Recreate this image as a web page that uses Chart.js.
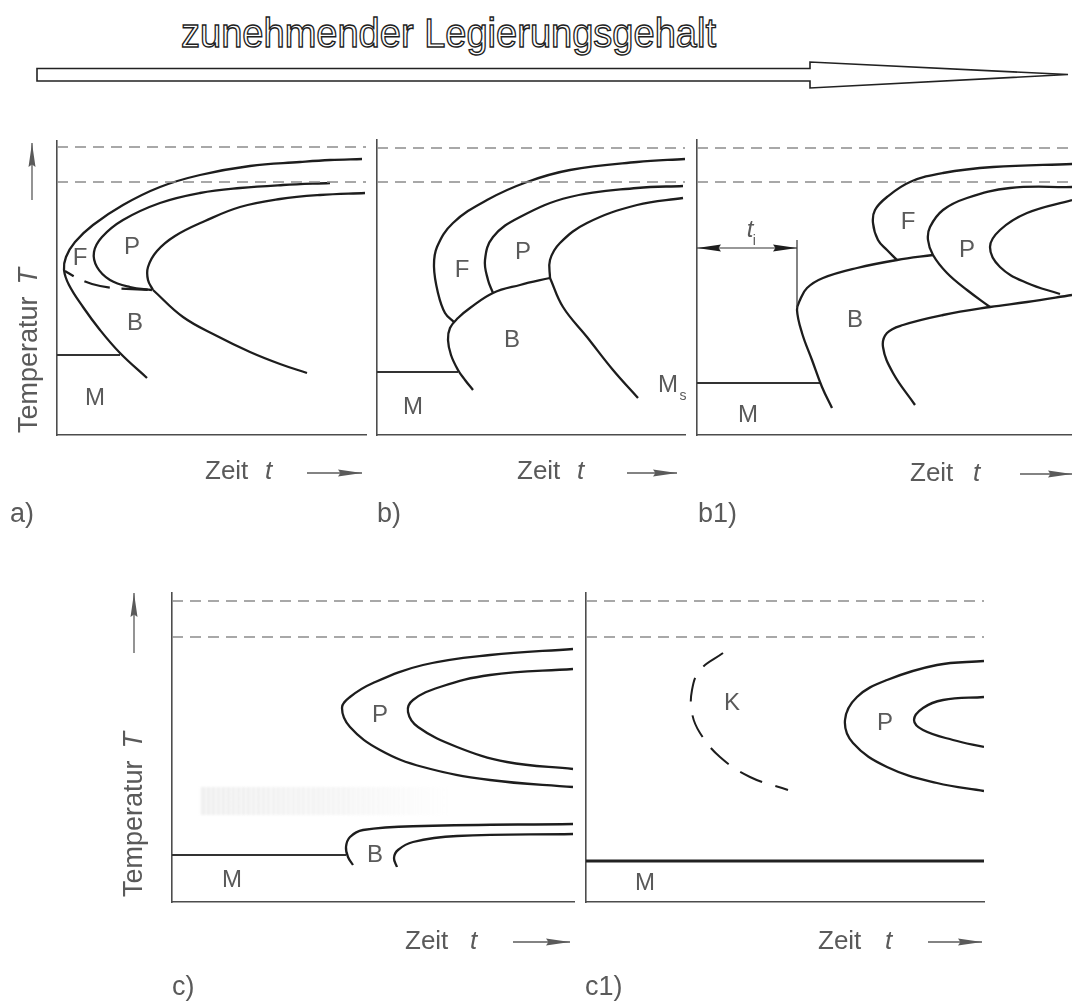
<!DOCTYPE html>
<html lang="de">
<head>
<meta charset="utf-8">
<title>ZTU-Schaubilder – zunehmender Legierungsgehalt</title>
<script src="https://cdn.jsdelivr.net/npm/chart.js@4.4.1/dist/chart.umd.min.js"></script>
<style>
  html, body { margin: 0; padding: 0; background: #fff; overflow: hidden; }
  #page { position: relative; width: 1072px; height: 1002px; }
  #page canvas { position: absolute; left: 0; top: 0; }
  #head { position: absolute; left: 0; top: 0; }
  #smudge {
    position: absolute; left: 200px; top: 787px; width: 250px; height: 28px;
    background:
      repeating-linear-gradient(90deg, rgba(255,255,255,.5) 0 2px, rgba(255,255,255,0) 2px 5px),
      linear-gradient(90deg, rgba(195,195,195,.28), rgba(205,205,205,.22) 55%, rgba(235,235,235,0));
    filter: blur(0.8px);
  }
</style>
</head>
<body>
<div id="page">
  <svg id="head" width="1072" height="100" viewBox="0 0 1072 100">
    <text x="181" y="47" font-family="'Liberation Sans Narrow', 'Liberation Sans', 'Arial Narrow', sans-serif"
          font-size="41" fill="#fff" stroke="#1e1e1e" stroke-width="1.4"
          textLength="535" lengthAdjust="spacingAndGlyphs">zunehmender Legierungsgehalt</text>
    <polygon points="37,68.5 810,68.5 810,62 1068,74.5 810,88 810,81 37,81"
             fill="#fff" stroke="#222" stroke-width="1.6"/>
  </svg>
  <div id="smudge"></div>
  <canvas id="chartA" width="1072" height="1002"></canvas>
  <canvas id="chartB" width="1072" height="1002"></canvas>
  <canvas id="chartB1" width="1072" height="1002"></canvas>
  <canvas id="chartC" width="1072" height="1002"></canvas>
  <canvas id="chartC1" width="1072" height="1002"></canvas>
</div>
<script>
// Zeit t (willkuerliche Einheiten) / Temperatur T (willkuerliche Einheiten)

// a) unlegiert
const aFerritStart = [[305,276],[273,275],[243,273],[193,269],[143,260],[103,248],[66,230],[36,210],[18,193],[9,178],[7,165],[12,150],[26,128],[43,105],[63,82],[90,57]];
const aPerlitStart = [[273,252],[226,250],[183,247],[143,242],[103,232],[66,215],[45,198],[37,183],[40,168],[53,155],[73,148],[95,145]];
const aUmwEndeOben = [[308,242],[263,240],[223,236],[183,228],[148,214],[118,199],[100,184],[91,168],[91,155],[96,145]];
const aUmwEndeUnten = [[96,145],[126,118],[160,99],[193,83],[223,71],[250,62]];
const aGrenzeFB = [[8,164],[20,157],[35,151],[56,147],[75,146],[96,145]];
const aMartensit = [[0,80],[63,80]];
const aLevels = [288, 253];
const aLabels = [['F',23,177],['P',75,188],['B',78,112],['M',38,37]];

// b) niedrig legiert
const bFerritStart = [[308,276],[260,273],[193,265],[150,253],[110,235],[76,212],[60,188],[57,168],[61,142],[68,122],[77,113]];
const bBainitStart = [[96,45],[88,55],[81,65],[74,80],[71,95],[73,107],[81,117],[93,127],[116,142],[143,150],[173,157]];
const bPerlitStart = [[306,249],[260,247],[193,238],[143,218],[116,198],[108,175],[111,155],[116,142]];
const bUmwEndeOben = [[306,237],[260,230],[210,212],[183,192],[173,175],[173,157]];
const bUmwEndeUnten = [[173,157],[186,128],[210,98],[236,65],[261,37]];
const bMartensit = [[0,63],[81,63]];
const bLevels = [287, 253];
const bLabels = [['F',85,165],['P',146,183],['B',135,95],['M',36,28],['M',291,50,'s']];

// b1) mit Inkubationszeit t_i
const b1Inkubation = [[0,187],[100,187]];
const b1Marke = [[100,195],[100,128]];
const b1BainitStart = [[135,27],[125,48],[115,75],[105,102],[100,125],[103,135],[110,147],[126,157],[160,167],[200,175],[236,180]];
const b1FerritStart = [[375,271],[296,268],[246,262],[213,253],[190,238],[178,225],[176,212],[181,195],[190,185],[200,175]];
const b1PerlitStart = [[375,248],[313,247],[270,237],[246,225],[233,208],[231,195],[236,180],[250,162],[270,145],[293,128]];
const b1PerlitEnde = [[375,235],[330,222],[303,205],[293,188],[303,168],[330,152],[363,141]];
const b1BainitEnde = [[218,30],[196,62],[186,88],[190,102],[206,110],[246,120],[293,128],[330,133],[375,140]];
const b1Martensit = [[0,52],[123,52]];
const b1Levels = [287, 253];
const b1Labels = [['F',211,213],['P',270,185],['B',158,115],['M',51,20],['t',53,205,'i']];

// c) hoch legiert
const cPerlitStart = [[401,253],[318,247],[251,237],[201,219],[178,205],[170,194],[178,175],[208,152],[251,135],[318,122],[401,115]];
const cPerlitEnde = [[401,233],[318,227],[268,215],[241,202],[236,190],[246,175],[285,155],[335,140],[401,133]];
const cBainitStart = [[401,78],[251,76],[191,72],[178,65],[174,55],[176,45],[181,37]];
const cBainitEnde = [[401,68],[285,66],[241,60],[226,52],[222,44],[225,35]];
const cMartensit = [[0,47],[174,47]];
const cLevels = [301, 265];
const cLabels = [['P',208,187],['B',203,47],['M',60,22]];

// c1) mit Karbidausscheidung
const c1Karbid = [[137,249],[114,232],[106,212],[106,189],[114,169],[134,145],[164,125],[202,112]];
const c1PerlitStart = [[398,241],[351,237],[301,222],[271,205],[259,182],[267,159],[301,135],[351,119],[398,111]];
const c1PerlitEnde = [[398,205],[357,202],[337,194],[328,182],[337,172],[367,162],[398,155]];
const c1Martensit = [[0,41],[398,41]];
const c1Levels = [301, 265];
const c1Labels = [['K',146,199],['P',299,179],['M',59,19]];

const PAGE_W = 1072, PAGE_H = 1002;
const INK = '#1d1d1d', AXIS = '#4d4d4d', DASH = '#8c8c8c', TEXT = '#5a5a5a';
const FONT = '"Liberation Sans", Arial, Helvetica, sans-serif';

function curve(points, extra) {
  return Object.assign({
    data: points, showLine: true, borderColor: INK, borderWidth: 2.3,
    pointRadius: 0, tension: 0.4, fill: false
  }, extra || {});
}

function thin(points, extra) {
  return curve(points, Object.assign({ borderWidth: 1.6, tension: 0 }, extra || {}));
}

function levels(vals, xMax) {
  return vals.map(v => thin([[0, v], [xMax, v]], { borderColor: DASH, borderWidth: 1.5, borderDash: [11, 7] }));
}

function axis(max) {
  return {
    type: 'linear', min: 0, max: max,
    grid: { display: false, drawTicks: false },
    ticks: { display: false },
    border: { display: true, color: AXIS, width: 1.6 }
  };
}

function head(ctx, x, y, ang, len, w) {
  ctx.save();
  ctx.translate(x, y);
  ctx.rotate(ang);
  ctx.beginPath();
  ctx.moveTo(0, 0);
  ctx.lineTo(-len, -w / 2);
  ctx.lineTo(-len * 0.9, 0);
  ctx.lineTo(-len, w / 2);
  ctx.closePath();
  ctx.fill();
  ctx.restore();
}

function arrow(ctx, x1, y1, x2, y2) {
  ctx.beginPath();
  ctx.moveTo(x1, y1);
  ctx.lineTo(x2, y2);
  ctx.lineWidth = 1.3;
  ctx.stroke();
  head(ctx, x2, y2, Math.atan2(y2 - y1, x2 - x1), 24, 7);
}

const tttPlugin = {
  id: 'ttt',
  afterDatasetsDraw(chart, args, o) {
    const { ctx } = chart;
    const xs = chart.scales.x, ys = chart.scales.y;
    ctx.save();

    // Maßpfeile (t_i)
    ctx.fillStyle = INK;
    chart.data.datasets.forEach((ds, i) => {
      if (!ds.arrowHeads) return;
      const pts = chart.getDatasetMeta(i).data;
      const p0 = pts[0], p1 = pts[pts.length - 1];
      const ang = Math.atan2(p1.y - p0.y, p1.x - p0.x);
      head(ctx, p1.x, p1.y, ang, 24, 7);
      head(ctx, p0.x, p0.y, ang + Math.PI, 24, 7);
    });

    // Gefuegebezeichnungen
    ctx.fillStyle = TEXT;
    ctx.strokeStyle = TEXT;
    ctx.textAlign = 'center';
    ctx.textBaseline = 'middle';
    (o.regions || []).forEach(([t, vx, vy, sub]) => {
      const px = xs.getPixelForValue(vx), py = ys.getPixelForValue(vy);
      ctx.font = (t === 't' ? 'italic ' : '') + '24px ' + FONT;
      ctx.fillText(t, px, py);
      if (sub) {
        const w = ctx.measureText(t).width;
        ctx.font = '14px ' + FONT;
        ctx.fillText(sub, px + w / 2 + (t === 't' ? 1 : 5), py + 11);
      }
    });

    // Achsentitel
    ctx.textAlign = 'left';
    ctx.textBaseline = 'alphabetic';
    const xt = o.xTitle;
    ctx.font = '26px ' + FONT;
    ctx.fillText('Zeit', xt.zeit, xt.base);
    ctx.font = 'italic 26px ' + FONT;
    ctx.fillText('t', xt.t, xt.base);
    arrow(ctx, xt.arrow[0], xt.arrow[2], xt.arrow[1], xt.arrow[2]);

    if (o.yTitle) {
      const yt = o.yTitle;
      ctx.save();
      ctx.translate(yt.base, yt.start);
      ctx.rotate(-Math.PI / 2);
      ctx.font = '27px ' + FONT;
      ctx.fillText('Temperatur', 0, 0);
      const w = ctx.measureText('Temperatur').width;
      ctx.font = 'italic 27px ' + FONT;
      ctx.fillText('T', w + 12, 0);
      ctx.restore();
      arrow(ctx, yt.arrow[0], yt.arrow[1], yt.arrow[0], yt.arrow[2]);
    }

    ctx.font = '27px ' + FONT;
    ctx.fillText(o.tag.text, o.tag.x, o.tag.base);
    ctx.restore();
  }
};

function makePanel(id, frame, datasets, ttt) {
  const [l, t, r, b] = frame;
  return new Chart(document.getElementById(id), {
    type: 'scatter',
    data: { datasets: datasets },
    options: {
      responsive: false,
      animation: false,
      events: [],
      layout: { padding: { left: l, top: t, right: PAGE_W - r, bottom: PAGE_H - b } },
      plugins: { legend: { display: false }, tooltip: { enabled: false }, ttt: ttt },
      scales: { x: axis(r - l), y: axis(b - t) }
    },
    plugins: [tttPlugin]
  });
}

makePanel('chartA', [57, 141, 366, 435], [
  ...levels(aLevels, 309),
  curve(aFerritStart),
  curve(aPerlitStart),
  curve(aUmwEndeOben),
  curve(aUmwEndeUnten),
  curve(aGrenzeFB, { borderDash: [26, 12], borderDashOffset: 16, tension: 0.3 }),
  thin(aMartensit, { borderColor: '#333', borderWidth: 1.8 })
], {
  regions: aLabels,
  xTitle: { zeit: 205, t: 265, base: 479, arrow: [307, 362, 473] },
  yTitle: { base: 37, start: 433, arrow: [32, 200, 143] },
  tag: { text: 'a)', x: 10, base: 522 }
});

makePanel('chartB', [377, 140, 685, 435], [
  ...levels(bLevels, 308),
  curve(bFerritStart),
  curve(bBainitStart),
  curve(bPerlitStart),
  curve(bUmwEndeOben),
  curve(bUmwEndeUnten),
  thin(bMartensit, { borderColor: '#333', borderWidth: 1.8 })
], {
  regions: bLabels,
  xTitle: { zeit: 517, t: 577, base: 479, arrow: [627, 677, 473] },
  tag: { text: 'b)', x: 377, base: 522 }
});

makePanel('chartB1', [697, 140, 1072, 435], [
  ...levels(b1Levels, 375),
  thin(b1Inkubation, { borderColor: '#333', borderWidth: 1.2, arrowHeads: true }),
  thin(b1Marke, { borderColor: '#333', borderWidth: 1.2 }),
  curve(b1BainitStart),
  curve(b1FerritStart),
  curve(b1PerlitStart),
  curve(b1PerlitEnde),
  curve(b1BainitEnde),
  thin(b1Martensit, { borderColor: '#333', borderWidth: 1.8 })
], {
  regions: b1Labels,
  xTitle: { zeit: 910, t: 973, base: 481, arrow: [1020, 1072, 474] },
  tag: { text: 'b1)', x: 698, base: 522 }
});

makePanel('chartC', [172, 593, 574, 902], [
  ...levels(cLevels, 402),
  curve(cPerlitStart),
  curve(cPerlitEnde),
  curve(cBainitStart),
  curve(cBainitEnde),
  thin(cMartensit, { borderColor: '#333', borderWidth: 1.8 })
], {
  regions: cLabels,
  xTitle: { zeit: 405, t: 470, base: 949, arrow: [513, 570, 942] },
  yTitle: { base: 142, start: 897, arrow: [134, 653, 593] },
  tag: { text: 'c)', x: 172, base: 995 }
});

makePanel('chartC1', [586, 593, 984, 902], [
  ...levels(c1Levels, 398),
  curve(c1Karbid, { borderDash: [24, 14], borderWidth: 2 }),
  curve(c1PerlitStart),
  curve(c1PerlitEnde),
  thin(c1Martensit, { borderColor: '#222', borderWidth: 2.8 })
], {
  regions: c1Labels,
  xTitle: { zeit: 818, t: 885, base: 949, arrow: [928, 982, 942] },
  tag: { text: 'c1)', x: 585, base: 995 }
});
</script>
</body>
</html>
